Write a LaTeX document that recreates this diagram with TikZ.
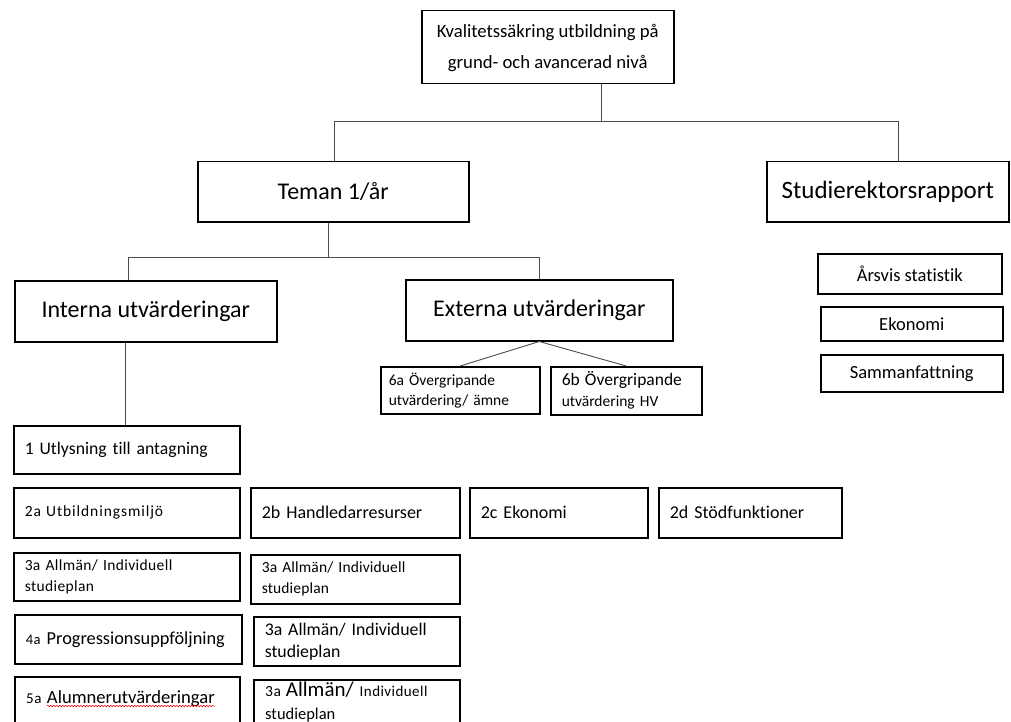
\documentclass[tikz,border=0pt]{standalone}
\usepackage{fontspec}
\setmainfont{Carlito}[Ligatures={NoCommon}]
\usetikzlibrary{decorations.pathmorphing,calc}
\newcommand{\fsz}[2]{\fontsize{#1}{#2}\selectfont}
\newcommand{\spc}[1]{\addfontfeature{LetterSpace=#1}}
\begin{document}
\begin{tikzpicture}[x=1pt,y=-1pt,
  box/.style={draw=black, line width=1.5pt, inner sep=0pt, anchor=north west, text=black},
  lbox/.style={box, align=left, inner xsep=11pt},
  link/.style={draw=black!70, line width=0.9pt},
  wavy/.style={draw=red, line width=0.5pt, decorate, decoration={snake, amplitude=0.8pt, segment length=3pt}}]
\useasboundingbox (0,0) rectangle (1011,722);
\clip (0,0) rectangle (1011,722);
% level 0
\node[box, align=center, minimum width=252pt, minimum height=73pt, font=\fsz{18.7}{31}] (title) at (421,10)
  {\rule{0pt}{15pt}Kvalitetssäkring utbildning på\\grund- och avancerad nivå};
% level 1
\node[box, minimum width=271pt, minimum height=60pt, font=\fsz{24}{29}] (teman) at (197,161) {Teman 1/år};
\node[box, minimum width=242pt, minimum height=60pt, font=\fsz{25}{30}] (studie) at (766,161) {Studierektorsrapport};
% level 2
\node[box, minimum width=262pt, minimum height=61pt, font=\fsz{24}{29}] (interna) at (14,280) {Interna utvärderingar};
\node[box, minimum width=267pt, minimum height=61pt, font=\fsz{24}{29}] (externa) at (405,279) {Externa utvärderingar};
% rapport items
\node[box, minimum width=184pt, minimum height=40pt, font=\fsz{18.5}{22}] (arsvis) at (817,253) {Årsvis statistik};
\node[box, minimum width=182pt, minimum height=34pt, font=\fsz{18.5}{22}] (ekon) at (820,306) {Ekonomi};
\node[box, minimum width=182pt, minimum height=37pt, font=\fsz{18.5}{22}] (samman) at (820,354) {Sammanfattning};
% externa items
\node[lbox, inner xsep=8pt, text width=143pt, minimum width=159pt, minimum height=47pt, font=\fsz{15.5}{20}] (n6a) at (380,366)
  {6a Övergripande\\utvärdering/ ämne};
\node[lbox, inner xsep=11pt, text width=129pt, minimum width=151pt, minimum height=48pt, font=\fsz{15.5}{21}] (n6b) at (550,366)
  {{\fsz{17.5}{21}6b Övergripande}\\utvärdering HV};
% interna items
\node[lbox, text width=204pt, minimum width=226pt, minimum height=48pt, font=\fsz{17.7}{22}] (utlys) at (13,425) {1 Utlysning till antagning};
\node[lbox, text width=204pt, minimum width=226pt, minimum height=50pt, font=\fsz{15.5}{18}\spc{6}] (n2a) at (13,487) {2a Utbildningsmiljö};
\node[lbox, text width=187pt, minimum width=209pt, minimum height=50pt, font=\fsz{18}{22}] (n2b) at (250,487) {2b Handledarresurser};
\node[lbox, text width=156pt, minimum width=178pt, minimum height=50pt, font=\fsz{18}{22}] (n2c) at (469,487) {2c Ekonomi};
\node[lbox, text width=161pt, minimum width=183pt, minimum height=50pt, font=\fsz{18}{22}] (n2d) at (658,487) {2d Stödfunktioner};
\node[lbox, text width=204pt, minimum width=226pt, minimum height=48pt, font=\fsz{15.5}{21}\spc{2.5}] (n3aL) at (13,552) {3a Allmän/ Individuell\\studieplan};
\node[lbox, text width=187pt, minimum width=209pt, minimum height=49pt, font=\fsz{15.5}{21}\spc{1}] (n3aR1) at (250,554) {3a Allmän/ Individuell\\studieplan};
\node[lbox, text width=205pt, minimum width=227pt, minimum height=49pt, font=\fsz{18.3}{22}] (n4a) at (14,614) {{\fsz{14.5}{22}\spc{4}4a} Progressionsuppföljning};
\node[lbox, text width=184pt, minimum width=206pt, minimum height=49pt, font=\fsz{17.8}{22}] (n3aR2) at (253,616) {3a Allmän/ Individuell\\studieplan};
% clipped bottom boxes
\node[box, minimum width=225pt, minimum height=60pt] (n5a) at (14,676) {};
\node[anchor=base west, inner sep=0pt, font=\fsz{15}{17}\spc{4}] (t5a) at ($(n5a.north west)+(12,27)$) {5a};
\node[anchor=base west, inner sep=0pt, font=\fsz{18.6}{22}] (alum) at ($(t5a.base east)+(5,0)$) {Alumnerutvärderingar};
\draw[wavy] ($(alum.base west)+(0,3)$) -- ($(alum.base east)+(0,3)$);
\node[box, minimum width=206pt, minimum height=60pt] (n3aR3) at (253,679) {};
\node[anchor=base west, inner sep=0pt] (t3aR3a) at ($(n3aR3.north west)+(12,17)$)
  {{\fsz{15.5}{18}\spc{3}3a}\hspace{5pt}{\fsz{21}{23}Allmän/}\hspace{6pt}{\fsz{15}{17}\spc{3}Individuell}};
\node[anchor=base west, inner sep=0pt, font=\fsz{16.5}{20}] (t3aR3b) at ($(t3aR3a.base west)+(0,23)$) {studieplan};
% connectors
\coordinate (j1) at (601,121);
\coordinate (jl) at (334,121);
\coordinate (jr) at (898,121);
\draw[link] (title.south -| j1) -- (j1);
\draw[link] (teman.north -| jl) -- (jl) -- (jr) -- (studie.north -| jr);
\coordinate (k1) at (328,257);
\coordinate (kl) at (128,257);
\coordinate (kr) at (539,257);
\draw[link] (teman.south -| k1) -- (k1);
\draw[link] (interna.north -| kl) -- (kl) -- (kr) -- (externa.north -| kr);
\draw[link] (externa.south) -- (n6a.north);
\draw[link] (externa.south) -- (n6b.north);
\coordinate (m) at (125,400);
\draw[link] (interna.south -| m) -- (utlys.north -| m);
\end{tikzpicture}
\end{document}
